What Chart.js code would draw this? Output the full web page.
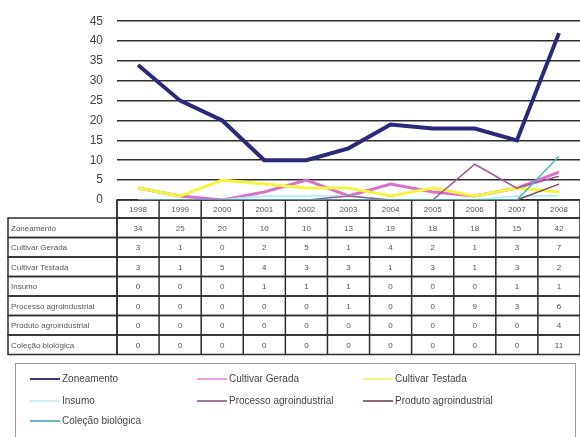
<!DOCTYPE html>
<html>
<head>
<meta charset="utf-8">
<script src="https://cdn.jsdelivr.net/npm/chart.js@4"></script>
<style>
  html, body { margin: 0; padding: 0; background: #fff; }
</style>
</head>
<body>
<canvas id="chart" width="580" height="437"></canvas>
<script>
// anos e séries
const years = ['1998', '1999', '2000', '2001', '2002', '2003', '2004', '2005', '2006', '2007', '2008'];
const zoneamento = [34, 25, 20, 10, 10, 13, 19, 18, 18, 15, 42];
const cultivarGerada = [3, 1, 0, 2, 5, 1, 4, 2, 1, 3, 7];
const cultivarTestada = [3, 1, 5, 4, 3, 3, 1, 3, 1, 3, 2];
const insumo = [0, 0, 0, 1, 1, 1, 0, 0, 0, 1, 1];
const processoAgro = [0, 0, 0, 0, 0, 1, 0, 0, 9, 3, 6];
const produtoAgro = [0, 0, 0, 0, 0, 0, 0, 0, 0, 0, 4];
const colecaoBio = [0, 0, 0, 0, 0, 0, 0, 0, 0, 0, 11];
const yMax = 45;
const yStep = 5;

const series = [
    { label: 'Zoneamento', data: zoneamento, color: '#2b2a78', width: 4, legend: '#3a3a7e' },
    { label: 'Cultivar Gerada', data: cultivarGerada, color: '#d673c9', width: 3, legend: '#eaa6dc' },
    { label: 'Cultivar Testada', data: cultivarTestada, color: '#f4f443', width: 3, legend: '#f2f08a' },
    { label: 'Insumo', data: insumo, color: '#bfeef0', width: 2, legend: '#cdeff0' },
    { label: 'Processo agroindustrial', data: processoAgro, color: '#9c5a96', width: 1.5, legend: '#a57aa0' },
    { label: 'Produto agroindustrial', data: produtoAgro, color: '#7e4650', width: 1.5, legend: '#8e6a70' },
    { label: 'Coleção biológica', data: colecaoBio, color: '#4fb2c2', width: 1.5, legend: '#6cb6c4' }
];

const FONT = '"Liberation Sans", Arial, sans-serif';

// tabela de dados embaixo do gráfico
const tablePlugin = {
    id: 'dataTable',
    beforeDatasetsDraw(chart) {
        const ctx = chart.ctx;
        const area = chart.chartArea;
        const x = chart.scales.x;
        const colW = (area.right - area.left) / years.length;
        const headTop = area.bottom;
        const headH = 18;
        const rowH = 19.5;
        const labelLeft = 8;

        ctx.save();
        ctx.strokeStyle = '#2e2e2e';
        ctx.lineWidth = 1.5;
        ctx.fillStyle = '#555';
        ctx.font = '8px ' + FONT;
        ctx.textBaseline = 'middle';

        // linha dos anos
        ctx.strokeRect(area.left, headTop, area.right - area.left, headH);
        ctx.textAlign = 'center';
        years.forEach((y, i) => {
            const cx = x.getPixelForValue(i);
            ctx.fillText(y, cx, headTop + headH / 2 + 1);
            ctx.beginPath();
            ctx.moveTo(area.left + i * colW, headTop);
            ctx.lineTo(area.left + i * colW, headTop + headH + rowH * series.length);
            ctx.stroke();
        });

        // linhas de valores
        series.forEach((s, r) => {
            const top = headTop + headH + r * rowH;
            ctx.strokeRect(labelLeft, top, area.right - labelLeft, rowH);
            ctx.textAlign = 'left';
            ctx.fillText(s.label, labelLeft + 3, top + rowH / 2 + 1);
            ctx.textAlign = 'center';
            s.data.forEach((v, i) => {
                ctx.fillText(String(v), x.getPixelForValue(i), top + rowH / 2 + 1);
            });
        });
        ctx.beginPath();
        ctx.moveTo(area.left, headTop + headH);
        ctx.lineTo(area.left, headTop + headH + rowH * series.length);
        ctx.stroke();
        ctx.restore();
    }
};

// legenda em três colunas
const legendPlugin = {
    id: 'boxLegend',
    afterDraw(chart) {
        const ctx = chart.ctx;
        const cols = [30, 197, 363];
        const rows = [379, 401, 421];
        ctx.save();
        ctx.strokeStyle = '#9a9a9a';
        ctx.lineWidth = 1;
        ctx.strokeRect(15.5, 363.5, 560, 90);
        ctx.font = '10px ' + FONT;
        ctx.fillStyle = '#444';
        ctx.textAlign = 'left';
        ctx.textBaseline = 'middle';
        series.forEach((s, i) => {
            const cx = cols[i % 3];
            const cy = rows[Math.floor(i / 3)];
            ctx.strokeStyle = s.legend;
            ctx.lineWidth = 2;
            ctx.beginPath();
            ctx.moveTo(cx, cy);
            ctx.lineTo(cx + 30, cy);
            ctx.stroke();
            ctx.fillText(s.label, cx + 32, cy);
        });
        ctx.restore();
    }
};

const ctx = document.getElementById('chart').getContext('2d');
const chart = new Chart(ctx, {
    type: 'line',
    data: {
        labels: years,
        datasets: series.map(s => ({
            label: s.label,
            data: s.data,
            borderColor: s.color,
            backgroundColor: s.color,
            borderWidth: s.width,
            pointRadius: 0,
            tension: 0,
            fill: false
        })).reverse()
    },
    options: {
        responsive: false,
        animation: false,
        layout: { padding: { top: 21, right: 0, bottom: 237, left: 0 } },
        plugins: {
            legend: { display: false },
            tooltip: { enabled: false }
        },
        scales: {
            x: {
                display: false,
                offset: true
            },
            y: {
                min: 0,
                max: yMax,
                afterFit(scale) { scale.width = 117; },
                ticks: {
                    stepSize: yStep,
                    color: '#444',
                    padding: 14,
                    font: { family: FONT, size: 12 }
                },
                grid: {
                    color: '#2e2e2e',
                    lineWidth: 1.6,
                    drawTicks: false
                },
                border: { display: false }
            }
        }
    },
    plugins: [tablePlugin, legendPlugin]
});
</script>
</body>
</html>
